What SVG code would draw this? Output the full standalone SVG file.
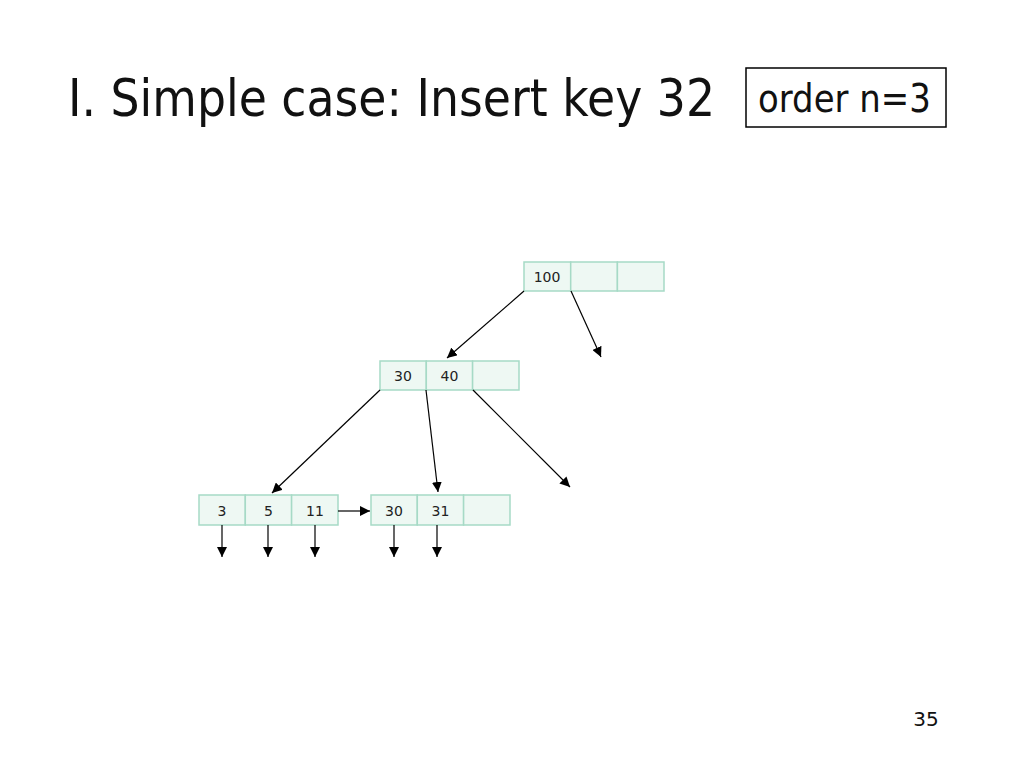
<svg xmlns="http://www.w3.org/2000/svg" width="1024" height="768" viewBox="0 0 1024 768">
<defs>
<marker id="ah" viewBox="0 0 10 10" refX="10" refY="5" markerWidth="10" markerHeight="10" markerUnits="userSpaceOnUse" orient="auto">
<path d="M0,0 L10,5 L0,10 z" fill="#000"/>
</marker>
<style>
.cell{fill:#eef8f3;stroke:#a6dac6;stroke-width:1.5}
.k{font-family:"DejaVu Sans",Verdana,sans-serif;font-size:14px;fill:#222;text-anchor:middle}
.c{stroke:#000;stroke-width:1.2;fill:none;marker-end:url(#ah)}
.t{font-family:"DejaVu Sans",Tahoma,sans-serif;fill:#111}
</style>
</defs>
<rect width="1024" height="768" fill="#fff"/>
<text class="t" transform="translate(68,116) scale(0.88,1)" x="0" y="0" font-size="52">I. Simple case: Insert key 32</text>
<g id="order">
<rect x="746" y="68" width="200" height="59" fill="#fff" stroke="#000" stroke-width="1.5"/>
<text class="t" transform="translate(758,112) scale(0.87,1)" x="0" y="0" font-size="39">order n=3</text>
</g>
<g id="root">
<rect class="cell" x="524" y="262" width="46.7" height="29"/>
<rect class="cell" x="570.7" y="262" width="46.7" height="29"/>
<rect class="cell" x="617.4" y="262" width="46.6" height="29"/>
<text class="k" x="547" y="282">100</text>
</g>
<g id="mid">
<rect class="cell" x="380" y="361" width="46.3" height="29"/>
<rect class="cell" x="426.3" y="361" width="46.3" height="29"/>
<rect class="cell" x="472.6" y="361" width="46.4" height="29"/>
<text class="k" x="403" y="381">30</text>
<text class="k" x="449.5" y="381">40</text>
</g>
<g id="leaf1">
<rect class="cell" x="199" y="495" width="46.3" height="30"/>
<rect class="cell" x="245.3" y="495" width="46.3" height="30"/>
<rect class="cell" x="291.6" y="495" width="46.4" height="30"/>
<text class="k" x="222" y="516">3</text>
<text class="k" x="268.5" y="516">5</text>
<text class="k" x="315" y="516">11</text>
</g>
<g id="leaf2">
<rect class="cell" x="371" y="495" width="46.3" height="30"/>
<rect class="cell" x="417.3" y="495" width="46.3" height="30"/>
<rect class="cell" x="463.6" y="495" width="46.4" height="30"/>
<text class="k" x="394" y="516">30</text>
<text class="k" x="440.5" y="516">31</text>
</g>
<g id="connectors">
<line class="c" x1="524" y1="291" x2="447" y2="358"/>
<line class="c" x1="571" y1="291" x2="601" y2="357"/>
<line class="c" x1="380" y1="390" x2="272" y2="493"/>
<line class="c" x1="426" y1="390" x2="438" y2="492"/>
<line class="c" x1="473" y1="390" x2="570" y2="487"/>
<line class="c" x1="338" y1="511" x2="370" y2="511"/>
<line class="c" x1="222" y1="525" x2="222" y2="557"/>
<line class="c" x1="268" y1="525" x2="268" y2="557"/>
<line class="c" x1="315" y1="525" x2="315" y2="557"/>
<line class="c" x1="394" y1="525" x2="394" y2="557"/>
<line class="c" x1="437" y1="525" x2="437" y2="557"/>
</g>
<text class="t" x="926" y="726" font-size="20" text-anchor="middle">35</text>
</svg>
